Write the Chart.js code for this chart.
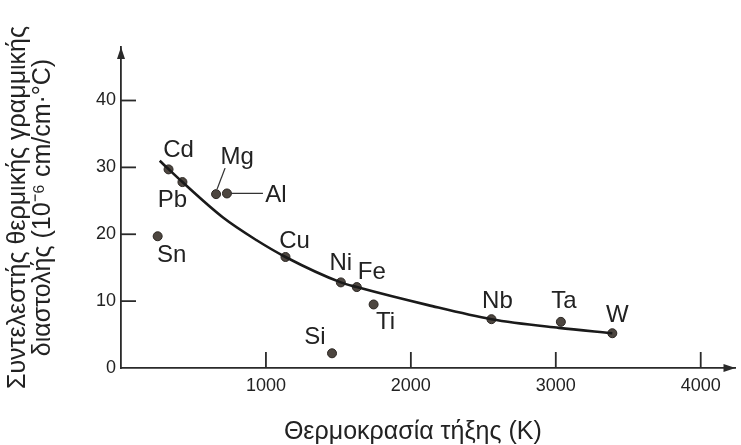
<!DOCTYPE html>
<html>
<head>
<meta charset="utf-8">
<script src="https://cdn.jsdelivr.net/npm/chart.js@4"></script>
<style>
  html, body { margin: 0; padding: 0; background: #fff; }
  #wrap { width: 741px; height: 445px; }
</style>
</head>
<body>
<div id="wrap"><canvas id="chart"></canvas></div>
<script>
// μέταλλα και τιμές (K, 10^-6 cm/cm·°C)
const metals = ["Cd", "Pb", "Mg", "Al", "Sn", "Cu", "Ni", "Fe", "Ti", "Si", "Nb", "Ta", "W"];
const meltingK = [328, 424, 656, 731, 253, 1135, 1517, 1627, 1743, 1456, 2556, 3035, 3390];
const expansion = [29.7, 27.8, 26.0, 26.1, 19.7, 16.6, 12.8, 12.1, 9.5, 2.2, 7.3, 6.9, 5.2];

// καμπύλη τάσης
const curveK = [267, 424, 704, 936, 1135, 1517, 1627, 2119, 2556, 3021, 3390];
const curveAlpha = [31.0, 27.8, 22.5, 19.1, 16.6, 12.8, 12.1, 9.4, 7.3, 6.0, 5.2];

const xTicks = [1000, 2000, 3000, 4000];
const yTicks = [0, 10, 20, 30, 40];

const xTitle = "Θερμοκρασία τήξης (K)";
const yTitle = ["Συντελεστής θερμικής γραμμικής", "διαστολής (10\u207B\u2076 cm/cm\u00B7\u00B0C)"];

// label offsets from the point, px (style only)
const labelOffsets = [
  [10, -19], [-10, 18], [21, -37], [49, 2], [14, 19], [9, -16], [0, -19],
  [15, -15], [12, 18], [-17, -16], [6, -18], [3, -20], [5, -18]
];
// leader lines for Mg and Al: [index, x0, y0, x1, y1] relative to point
const leaders = [
  [2, 1, -5, 9, -26],
  [3, 4, 0, 36, 0]
];

const FONT = "'Liberation Sans', Arial, sans-serif";
const INK = "#222";

const decorations = {
  id: "decorations",
  afterDraw(chart) {
    const ctx = chart.ctx;
    const xs = chart.scales.x, ys = chart.scales.y;
    const area = chart.chartArea;
    ctx.save();
    ctx.strokeStyle = "#2a2a2a";
    ctx.lineWidth = 1.8;
    // inward tick marks
    xTicks.forEach(v => {
      const px = xs.getPixelForValue(v);
      ctx.beginPath();
      ctx.moveTo(px, area.bottom);
      ctx.lineTo(px, area.bottom - 16);
      ctx.stroke();
    });
    yTicks.filter(v => v > 0).forEach(v => {
      const py = ys.getPixelForValue(v);
      ctx.beginPath();
      ctx.moveTo(area.left, py);
      ctx.lineTo(area.left + 15, py);
      ctx.stroke();
    });
    // arrow heads
    ctx.fillStyle = "#2a2a2a";
    ctx.beginPath();
    ctx.moveTo(area.right, area.bottom);
    ctx.lineTo(area.right - 12, area.bottom - 4);
    ctx.lineTo(area.right - 12, area.bottom + 4);
    ctx.closePath();
    ctx.fill();
    ctx.beginPath();
    ctx.moveTo(area.left, area.top);
    ctx.lineTo(area.left - 4, area.top + 12);
    ctx.lineTo(area.left + 4, area.top + 12);
    ctx.closePath();
    ctx.fill();

    ctx.fillStyle = INK;
    ctx.textAlign = "center";
    ctx.textBaseline = "middle";

    // x title, centred under the 2000 K tick as in the original
    ctx.font = "25px " + FONT;
    ctx.fillText(xTitle, xs.getPixelForValue(2000) + 2, 432);

    // point labels
    const meta = chart.getDatasetMeta(1);
    ctx.font = "24px " + FONT;
    metals.forEach((m, i) => {
      const el = meta.data[i];
      ctx.fillText(m, el.x + labelOffsets[i][0], el.y + labelOffsets[i][1]);
    });
    ctx.strokeStyle = "#333";
    ctx.lineWidth = 1.3;
    leaders.forEach(([i, x0, y0, x1, y1]) => {
      const el = meta.data[i];
      ctx.beginPath();
      ctx.moveTo(el.x + x0, el.y + y0);
      ctx.lineTo(el.x + x1, el.y + y1);
      ctx.stroke();
    });
    ctx.restore();
  }
};

new Chart(document.getElementById("chart"), {
  type: "scatter",
  data: {
    datasets: [
      {
        label: "curve",
        data: curveK.map((k, i) => ({ x: k, y: curveAlpha[i] })),
        showLine: true,
        borderColor: "#1a1a1a",
        borderWidth: 2.6,
        pointRadius: 0,
        cubicInterpolationMode: "monotone",
        fill: false,
      },
      {
        label: "metals",
        data: meltingK.map((k, i) => ({ x: k, y: expansion[i] })),
        pointRadius: 4.5,
        backgroundColor: "#4d4640",
        borderColor: "#2b2622",
        borderWidth: 1,
      },
    ],
  },
  options: {
    responsive: true,
    maintainAspectRatio: false,
    animation: false,
    layout: { padding: { top: 47, right: 1, left: 0, bottom: 0 } },
    plugins: { legend: { display: false }, tooltip: { enabled: false } },
    scales: {
      x: {
        type: "linear",
        min: 0,
        max: 4240,
        afterFit: (s) => { s.height = 77; },
        afterBuildTicks: (s) => { s.ticks = xTicks.map(v => ({ value: v })); },
        ticks: {
          color: INK, padding: 7, maxRotation: 0,
          font: { family: FONT, size: 18 },
          callback: (v) => String(v),
        },
        grid: { display: false, drawTicks: false },
        border: { display: true, color: "#2a2a2a", width: 1.8 },
      },
      y: {
        min: 0,
        max: 48,
        afterFit: (s) => { s.width = 121; },
        afterBuildTicks: (s) => { s.ticks = yTicks.map(v => ({ value: v })); },
        ticks: { color: INK, padding: 5, font: { family: FONT, size: 18 }, callback: (v) => String(v) },
        grid: { display: false, drawTicks: false },
        border: { display: true, color: "#2a2a2a", width: 1.8 },
        title: {
          display: true,
          text: yTitle,
          color: INK,
          font: { family: FONT, size: 25, lineHeight: 1.0 },
          padding: { top: 6, bottom: 0 },
        },
      },
    },
  },
  plugins: [decorations],
});
</script>
</body>
</html>
